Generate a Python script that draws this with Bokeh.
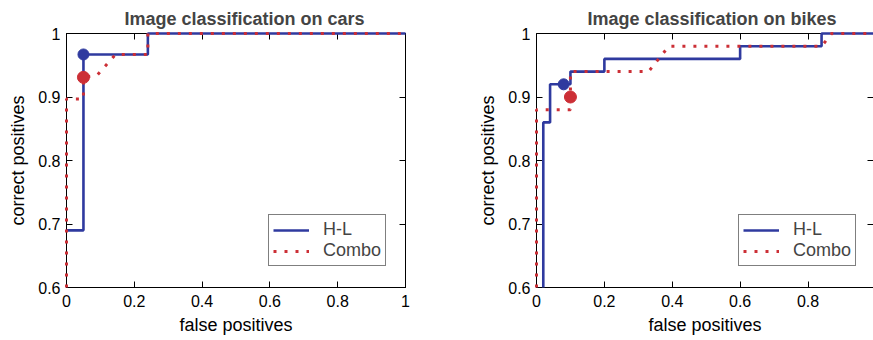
from bokeh.plotting import figure
from bokeh.layouts import row
from bokeh.models import FixedTicker, LinearAxis, Legend, LegendItem, Range1d
from bokeh.embed import file_html
from bokeh.resources import INLINE

# ---- data ----
x_ticks = [0, 0.2, 0.4, 0.6, 0.8, 1.0]
x_tick_labels = ["0", "0.2", "0.4", "0.6", "0.8", "1"]
y_ticks = [0.6, 0.7, 0.8, 0.9, 1.0]
y_tick_labels = ["0.6", "0.7", "0.8", "0.9", "1"]

titles = ["Image classification on cars", "Image classification on bikes"]
series_names = ["H-L", "Combo"]

cars_hl_fp = [0.0, 0.05, 0.05, 0.24, 0.24, 1.0]
cars_hl_tp = [0.69, 0.69, 0.967, 0.967, 1.0, 1.0]
cars_combo_fp = [0.0, 0.0, 0.05, 0.05, 0.09, 0.145, 0.24, 0.24, 1.0]
cars_combo_tp = [0.6, 0.897, 0.897, 0.931, 0.934, 0.967, 0.967, 1.0, 1.0]
cars_hl_point = (0.05, 0.967)
cars_combo_point = (0.05, 0.931)

bikes_hl_fp = [0.02, 0.02, 0.04, 0.04, 0.1, 0.1, 0.2, 0.2, 0.6, 0.6, 0.84, 0.84, 1.0]
bikes_hl_tp = [0.6, 0.86, 0.86, 0.92, 0.92, 0.94, 0.94, 0.96, 0.96, 0.98, 0.98, 1.0, 1.0]
bikes_combo_fp = [0.0, 0.0, 0.1, 0.1, 0.33, 0.39, 0.84, 0.87, 1.0]
bikes_combo_tp = [0.6, 0.88, 0.88, 0.94, 0.94, 0.98, 0.98, 1.0, 1.0]
bikes_hl_point = (0.08, 0.92)
bikes_combo_point = (0.1, 0.90)

# ---- styles ----
BLUE = "#2f3a9f"
RED = "#cc2f36"
FONT = "Liberation Sans"
TICK_FS = "16px"
LABEL_FS = "18px"


def hidden_label_axis(ticks, line_color, standoff):
    return LinearAxis(ticker=FixedTicker(ticks=ticks),
                      major_label_text_color=None, major_label_text_font_size="1px",
                      major_label_standoff=standoff, major_tick_in=6, major_tick_out=0,
                      minor_tick_line_color=None, axis_line_color=line_color,
                      major_tick_line_color="black")


def make_panel(title, hl_fp, hl_tp, combo_fp, combo_tp, hl_pt, combo_pt,
               width, x_end, border_right, show_right_border, title_offset):
    p = figure(width=width, height=340, output_backend="svg", toolbar_location=None,
               x_range=Range1d(0, x_end), y_range=Range1d(0.6, 1.0),
               min_border_left=66, min_border_right=border_right,
               min_border_top=33, min_border_bottom=53,
               x_axis_label="false positives", y_axis_label="correct positives")
    p.title.text = title
    p.title.text_font = FONT
    p.title.text_font_size = "18px"
    p.title.text_font_style = "bold"
    p.title.align = "left"
    p.title.offset = title_offset
    p.title.vertical_align = "top"
    p.title.standoff = 6
    p.grid.visible = False
    p.background_fill_color = "white"
    p.border_fill_color = "white"
    p.outline_line_color = "black" if show_right_border else None
    p.outline_line_width = 1

    for ax in p.xaxis + p.yaxis:
        ax.major_tick_in = 6
        ax.major_tick_out = 0
        ax.minor_tick_line_color = None
        ax.axis_line_color = "black"
        ax.major_tick_line_color = "black"
        ax.major_label_text_font = FONT
        ax.major_label_text_font_size = TICK_FS
        ax.major_label_text_color = "black"
        ax.axis_label_text_font = FONT
        ax.axis_label_text_font_size = LABEL_FS
        ax.axis_label_text_font_style = "normal"
        ax.axis_label_text_color = "black"
    p.xaxis.ticker = FixedTicker(ticks=x_ticks)
    p.xaxis.major_label_overrides = dict(zip(x_ticks, x_tick_labels))
    p.yaxis.ticker = FixedTicker(ticks=y_ticks)
    p.yaxis.major_label_overrides = dict(zip(y_ticks, y_tick_labels))
    p.xaxis.major_label_standoff = 7
    p.xaxis.axis_label_standoff = 5
    p.yaxis.major_label_standoff = 6
    p.yaxis.axis_label_standoff = 7

    p.add_layout(hidden_label_axis(x_ticks, "black", 3), "above")
    p.add_layout(hidden_label_axis(y_ticks, "black" if show_right_border else None, 0),
                 "right")

    hl = p.line(hl_fp, hl_tp, line_color=BLUE, line_width=2.6, level="overlay")
    cb = p.line(combo_fp, combo_tp, line_color=RED, line_width=3, line_dash="3 8",
                level="overlay")
    p.scatter([hl_pt[0]], [hl_pt[1]], size=11, fill_color=BLUE, line_color=BLUE,
              level="overlay")
    p.scatter([combo_pt[0]], [combo_pt[1]], size=12, fill_color=RED, line_color=RED,
              level="overlay")

    legend = Legend(items=[LegendItem(label=series_names[0], renderers=[hl]),
                           LegendItem(label=series_names[1], renderers=[cb])],
                    location=(202, 21))
    legend.label_text_font = FONT
    legend.label_text_font_size = LABEL_FS
    legend.label_standoff = 14
    legend.glyph_width = 36
    legend.glyph_height = 18
    legend.label_height = 18
    legend.padding = 4
    legend.spacing = 0
    legend.margin = 0
    legend.border_line_color = "black"
    legend.border_line_width = 1.5
    legend.background_fill_color = "white"
    legend.background_fill_alpha = 1
    p.add_layout(legend)
    return p


left = make_panel(titles[0], cars_hl_fp, cars_hl_tp, cars_combo_fp, cars_combo_tp,
                  cars_hl_point, cars_combo_point, 470, 1.0, 65, True, 58)
right = make_panel(titles[1], bikes_hl_fp, bikes_hl_tp, bikes_combo_fp, bikes_combo_tp,
                   bikes_hl_point, bikes_combo_point, 403, 0.993, 0, False, 51)

layout = row(left, right)
open("out.html", "w").write(file_html(layout, INLINE))
